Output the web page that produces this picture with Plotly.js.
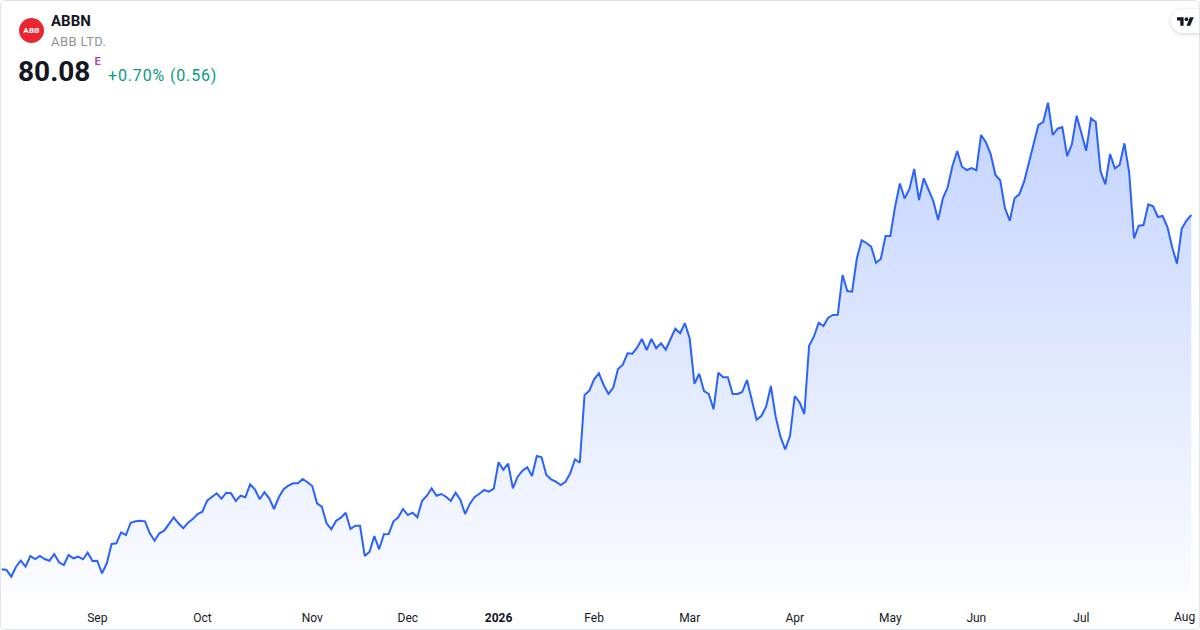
<!DOCTYPE html>
<html>
<head>
<meta charset="utf-8">
<script src="https://cdn.plot.ly/plotly-3.0.1.min.js"></script>
<style>
  html, body { margin:0; padding:0; background:#ffffff; }
  body { width:1200px; height:630px; overflow:hidden; position:relative; font-family: Roboto, "Noto Sans", sans-serif; }
  #chart { position:absolute; left:0; top:0; width:1200px; height:630px; }
  .hdr { position:absolute; white-space:nowrap; line-height:1; z-index:3; }
  #card { position:absolute; left:0; top:0; width:1198px; height:628px; border:1px solid #e0e3eb; border-radius:5px; pointer-events:none; z-index:6; }
  #logo { position:absolute; left:19px; top:18px; width:25px; height:25px; border-radius:50%; background:#eb2630; z-index:3;
          color:#fff; font:700 8px/25px Roboto, sans-serif; text-align:center; letter-spacing:0.3px; }
  #tv { position:absolute; left:1171px; top:9px; width:31px; height:24px; background:#fff; border-radius:12px 0 0 12px;
        box-shadow:0 1px 4px rgba(0,0,0,0.18); z-index:5; }
  #tv svg { position:absolute; left:6px; top:7.5px; }
</style>
</head>
<body>
<div id="chart"></div>
<div id="logo">ABB</div>
<div class="hdr" style="left:51px; top:14px; font-size:15px; font-weight:700; color:#131722;">ABBN</div>
<div class="hdr" style="left:51px; top:34.5px; font-size:13px; letter-spacing:0.4px; color:#8f929a;">ABB LTD.</div>
<div class="hdr" style="left:18px; top:57.5px; font-size:28px; font-weight:700; color:#131722;">80.08</div>
<div class="hdr" style="left:94.5px; top:56px; font-size:11px; font-weight:700; color:#ab47bc;">E</div>
<div class="hdr" style="left:108px; top:67.5px; font-size:16px; letter-spacing:0.85px; color:#089981;">+0.70% (0.56)</div>
<div id="tv"><svg width="17" height="9" viewBox="0 4 36 18"><path fill="#131722" d="M14 22H7V11H0V4h14v18zM28 22h-8l7.5-18h8L28 22z"/><circle fill="#131722" cx="20" cy="8" r="4"/></svg></div>
<div id="card"></div>
<script>
// ABBN daily close (CHF), Aug 4 2025 -> Aug 3 2026
const prices = [
44.65,44.58,43.91,44.91,45.51,44.91,45.98,45.68,45.98,45.68,
45.51,46.18,45.35,45.08,46.08,45.75,45.91,45.65,46.31,45.48,
45.51,44.25,45.25,47.18,47.25,48.35,48.08,49.31,49.45,49.51,
49.45,48.25,47.51,48.25,48.51,49.18,49.85,49.25,48.75,49.31,
49.68,50.18,50.41,51.51,51.91,52.25,51.71,52.31,52.25,51.48,
52.01,51.85,53.15,52.65,51.65,52.35,51.75,50.68,51.85,52.65,
53.01,53.25,53.25,53.68,53.35,52.98,51.25,50.91,49.25,48.65,
49.51,49.81,50.31,48.68,49.01,49.01,45.98,46.41,47.98,46.65,
48.15,48.18,49.45,49.85,50.68,50.08,50.31,49.85,51.51,52.01,
52.75,52.01,52.18,51.91,51.48,52.31,51.61,50.18,51.21,51.88,
52.21,52.58,52.41,52.71,55.35,54.61,55.21,52.75,53.91,54.51,
54.85,53.98,55.98,55.85,54.08,53.65,53.41,53.08,53.41,54.25,
55.65,55.31,62.08,62.51,63.65,64.25,63.08,62.18,62.81,64.68,
65.11,66.25,66.21,66.81,67.68,66.58,67.68,66.75,67.25,66.61,
67.68,68.71,68.25,69.25,67.75,63.21,64.21,62.48,62.18,60.65,
64.31,63.85,63.85,62.18,62.18,62.38,63.58,61.58,59.61,59.98,
60.91,62.98,59.91,57.91,56.65,57.98,61.98,61.35,60.18,67.01,
67.91,69.31,68.98,69.81,70.08,70.11,74.08,72.48,72.41,75.75,
77.55,77.28,76.91,75.31,75.68,77.98,77.98,80.91,83.23,81.73,
82.68,84.68,81.58,83.75,82.68,81.48,79.58,81.75,82.85,84.98,
86.48,84.91,84.58,84.78,84.55,88.08,87.35,86.18,84.08,83.55,
80.75,79.51,81.75,82.15,83.41,85.25,87.15,89.08,89.38,91.31,
88.08,88.71,88.88,85.98,87.15,90.01,88.25,86.51,89.75,89.38,
84.45,83.15,86.18,84.75,85.08,87.25,84.31,77.75,79.01,79.08,
81.15,80.95,79.88,79.98,78.88,76.85,75.21,78.71,79.52,80.08
];
// trading calendar (SIX Swiss Exchange)
const startDate = '2025-08-04';
const holidays = ['2025-12-24','2025-12-25','2025-12-26','2025-12-31','2026-01-01','2026-01-02',
                  '2026-04-03','2026-04-06','2026-05-01','2026-05-14','2026-05-25'];
const tickLabels = ['Sep','Oct','Nov','Dec','<b>2026</b>','Feb','Mar','Apr','May','Jun','Jul','Aug'];

const dates = [];
(function(){
  const p = startDate.split('-').map(Number);
  const d = new Date(Date.UTC(p[0], p[1]-1, p[2]));
  while (dates.length < prices.length) {
    const wd = d.getUTCDay();
    const s = d.toISOString().slice(0,10);
    if (wd !== 0 && wd !== 6 && holidays.indexOf(s) < 0) dates.push(s);
    d.setUTCDate(d.getUTCDate() + 1);
  }
})();
const tickVals = [];
for (let i = 1; i < dates.length; i++) {
  if (dates[i].slice(0,7) !== dates[i-1].slice(0,7)) tickVals.push(dates[i]);
}
const labels = tickLabels.slice(0, tickVals.length);
// the last month label sits at the right edge: keep it inside the frame (as the original does)
const edgeVal = tickVals[tickVals.length - 1];
const edgeText = labels[labels.length - 1];
const axisVals = tickVals.slice(0, -1);
const axisText = labels.slice(0, -1);

const tickFont = {family:'Roboto, sans-serif', size:12, color:'#131722'};
const yMin = 42.28, yMax = 101.58;
const trace = {
  x: dates, y: prices, type:'scatter', mode:'lines',
  line:{color:'#2962ff', width:2},
  fill:'tozeroy',
  fillgradient:{type:'vertical', start:yMin, stop:Math.max.apply(null, prices),
    colorscale:[[0,'rgba(41,98,255,0.02)'],[1,'rgba(41,98,255,0.28)']]},
  hoverinfo:'skip'
};
const layout = {
  width:1200, height:630,
  margin:{l:0, r:0, t:0, b:37, pad:0},
  paper_bgcolor:'rgba(0,0,0,0)', plot_bgcolor:'rgba(0,0,0,0)',
  showlegend:false,
  xaxis:{type:'category', range:[-0.356, 250.82], tickvals:axisVals, ticktext:axisText,
    ticks:'', showgrid:false, zeroline:false, showline:false, ticklabelstandoff:16, ticklabeloverflow:'allow',
    tickfont:tickFont, fixedrange:true},
  yaxis:{range:[yMin, yMax], visible:false, showgrid:false, zeroline:false, fixedrange:true},
  annotations:[{x:edgeVal, xref:'x', y:0, yref:'paper', text:edgeText, showarrow:false,
    xanchor:'right', xshift:6, yanchor:'middle', yshift:-24, font:tickFont}]
};
Plotly.newPlot('chart', [trace], layout, {staticPlot:true, displayModeBar:false});
</script>
</body>
</html>
